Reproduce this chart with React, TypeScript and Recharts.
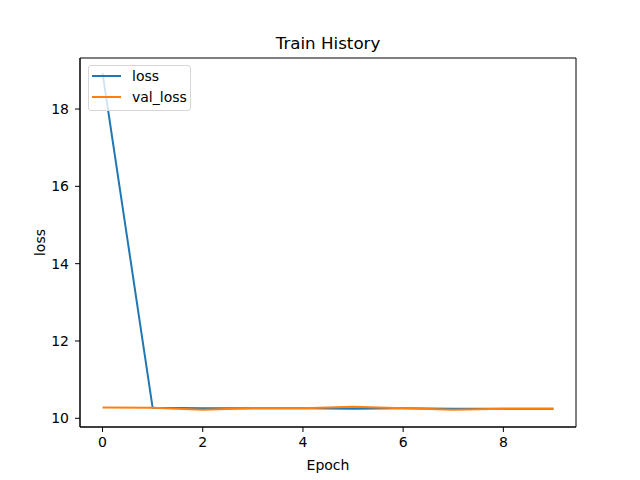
import { LineChart, Line, XAxis, YAxis, ReferenceArea } from 'recharts'

const epochs = [0, 1, 2, 3, 4, 5, 6, 7, 8, 9]
const loss = [18.93, 10.27, 10.26, 10.26, 10.26, 10.25, 10.26, 10.25, 10.25, 10.25]
const valLoss = [10.28, 10.27, 10.22, 10.26, 10.26, 10.3, 10.26, 10.22, 10.25, 10.25]
const xTicks = [0, 2, 4, 6, 8]
const yTicks = [10, 12, 14, 16, 18]

const series = [
  { key: 'loss', name: 'loss', color: '#1f77b4' },
  { key: 'val_loss', name: 'val_loss', color: '#ff7f0e' },
]

const data = epochs.map((e, i) => ({ epoch: e, loss: loss[i], val_loss: valLoss[i] }))

const font = 'DejaVu Sans, sans-serif'
const tick = { fontSize: 14, fill: '#000', fontFamily: font }

// matplotlib-style legend box, drawn over the plot's upper-left corner
function LegendBox() {
  return (
    <div
      style={{
        position: 'absolute',
        left: 88,
        top: 65,
        width: 101,
        height: 44,
        border: '1px solid #d6d6d6',
        borderRadius: 3,
        background: 'rgba(255,255,255,0.8)',
        fontFamily: font,
        fontSize: 14,
        boxSizing: 'content-box',
      }}
    >
      {series.map((s, i) => (
        <div
          key={s.key}
          style={{ position: 'absolute', left: 3, top: 1 + i * 21, height: 18, display: 'flex', alignItems: 'center' }}
        >
          <span style={{ display: 'inline-block', width: 29, height: 2, background: s.color, marginRight: 11 }} />
          <span>{s.name}</span>
        </div>
      ))}
    </div>
  )
}

export default function App() {
  return (
    <div style={{ position: 'absolute', left: 0, top: 0, width: 640, height: 480, background: '#fff' }}>
      <div
        style={{
          position: 'absolute',
          top: 33,
          left: 80,
          width: 496,
          textAlign: 'center',
          fontFamily: font,
          fontSize: 16.7,
        }}
      >
        Train History
      </div>
      <LineChart
        width={640}
        height={480}
        data={data}
        margin={{ top: 58, right: 64, bottom: 23, left: 30 }}
      >
        <XAxis
          dataKey="epoch"
          type="number"
          domain={[-0.45, 9.45]}
          ticks={xTicks}
          allowDataOverflow
          height={30}
          tick={tick}
          tickSize={5}
          tickMargin={5}
          stroke="#000"
          label={{ value: 'Epoch', position: 'insideBottom', offset: -13, style: { fontSize: 14, fill: '#000', fontFamily: font } }}
        />
        <YAxis
          type="number"
          domain={[9.775, 19.32]}
          ticks={yTicks}
          allowDataOverflow
          width={50}
          tick={tick}
          tickSize={5}
          tickMargin={6}
          stroke="#000"
          label={{ value: 'loss', angle: -90, position: 'insideLeft', offset: 10, style: { fontSize: 14, fill: '#000', fontFamily: font, textAnchor: 'middle' } }}
        />
        <ReferenceArea x1={-0.45} x2={9.45} y1={9.775} y2={19.32} fill="none" stroke="#000" strokeWidth={1} ifOverflow="visible" />
        {series.map((s) => (
          <Line
            key={s.key}
            dataKey={s.key}
            name={s.name}
            stroke={s.color}
            strokeWidth={2}
            dot={false}
            isAnimationActive={false}
          />
        ))}
      </LineChart>
      <LegendBox />
    </div>
  )
}
